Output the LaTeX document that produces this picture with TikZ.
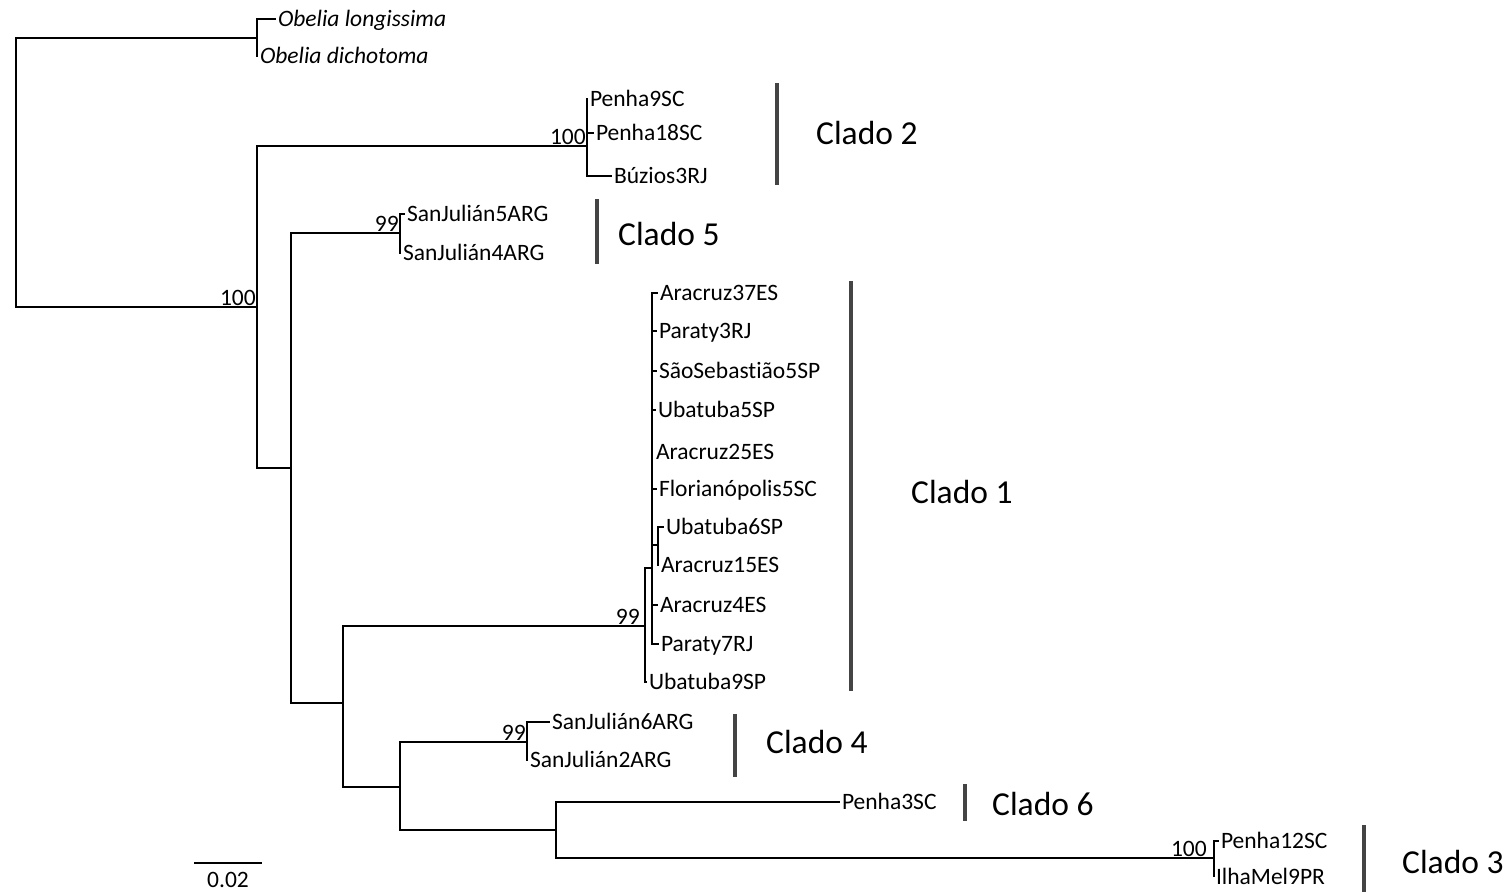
\documentclass[tikz,border=0pt]{standalone}
\usepackage{fontspec}
\setmainfont[Ligatures={NoCommon}]{Carlito}
\definecolor{treeline}{HTML}{000000}
\definecolor{barcolor}{HTML}{444444}

\begin{document}
\begin{tikzpicture}[
    x=1pt, y=-1pt,
    every node/.style={font=\fontsize{23.5}{27}\selectfont},
    taxon/.style={anchor=west, inner xsep=2pt, inner ysep=0pt, outer sep=0pt, text height=15pt, text depth=0pt},
    boot/.style={anchor=south east, inner sep=1pt},
    clado/.style={anchor=west, inner sep=0pt, font=\fontsize{33.5}{38}\selectfont},
    branch/.style={line width=2.8pt, color=treeline},
    cladebar/.style={line width=3.2pt, color=barcolor}
]
\useasboundingbox (0,0) rectangle (1510,892);

% Internal nodes
\coordinate (root) at (16,172);
\coordinate (ob) at (257,38);
\coordinate (ing) at (257,307);
\coordinate (c2) at (587,146);
\coordinate (a) at (291,468);
\coordinate (c5) at (400,233);
\coordinate (b) at (343,703);
\coordinate (c1) at (645,626);
\coordinate (e) at (652,568);
\coordinate (f) at (658,545);
\coordinate (d) at (400,787);
\coordinate (c4) at (527,742);
\coordinate (g) at (556,830);
\coordinate (c3) at (1214,858);

% Taxa
\node[taxon] (olong) at (276,19) {\itshape Obelia longissima};
\node[taxon] (odich) at (258,56) {\itshape Obelia dichotoma};
\node[taxon] (pen9) at (588,99) {Penha9SC};
\node[taxon] (pen18) at (594,133) {Penha18SC};
\node[taxon] (buz3) at (612,176) {Búzios3RJ};
\node[taxon] (sj5) at (405,214) {SanJulián5ARG};
\node[taxon] (sj4) at (401,253) {SanJulián4ARG};
\node[taxon] (ar37) at (658,293) {Aracruz37ES};
\node[taxon] (par3) at (657,331) {Paraty3RJ};
\node[taxon] (sse5) at (657,371) {SãoSebastião5SP};
\node[taxon] (uba5) at (656,410) {Ubatuba5SP};
\node[taxon] (ar25) at (654,452) {Aracruz25ES};
\node[taxon] (flo5) at (657,489) {Florianópolis5SC};
\node[taxon] (uba6) at (664,527) {Ubatuba6SP};
\node[taxon] (ar15) at (659,565) {Aracruz15ES};
\node[taxon] (ar4) at (658,605) {Aracruz4ES};
\node[taxon] (par7) at (659,644) {Paraty7RJ};
\node[taxon] (uba9) at (647,682) {Ubatuba9SP};
\node[taxon] (sj6) at (550,722) {SanJulián6ARG};
\node[taxon] (sj2) at (528,760) {SanJulián2ARG};
\node[taxon] (pen3) at (840,802) {Penha3SC};
\node[taxon] (pen12) at (1219,841) {Penha12SC};
\node[taxon] (ilha9) at (1214,877) {IlhaMel9PR};

% Branches
\draw[branch] (root) |- (ob);
\draw[branch] (root) |- (ing);
\draw[branch] (ob) |- (olong.west);
\draw[branch] (ob) |- (odich.west);
\draw[branch] (ing) |- (c2);
\draw[branch] (ing) |- (a);
\draw[branch] (c2) |- (pen9.west);
\draw[branch] (c2) |- (pen18.west);
\draw[branch] (c2) |- (buz3.west);
\draw[branch] (a) |- (c5);
\draw[branch] (a) |- (b);
\draw[branch] (c5) |- (sj5.west);
\draw[branch] (c5) |- (sj4.west);
\draw[branch] (b) |- (c1);
\draw[branch] (b) |- (d);
\draw[branch] (c1) |- (e);
\draw[branch] (c1) |- (uba9.west);
\draw[branch] (e) |- (ar37.west);
\draw[branch] (e) |- (par3.west);
\draw[branch] (e) |- (sse5.west);
\draw[branch] (e) |- (uba5.west);
\draw[branch] (e) |- (flo5.west);
\draw[branch] (e) |- (f);
\draw[branch] (e) |- (ar4.west);
\draw[branch] (e) |- (par7.west);
\draw[branch] (f) |- (uba6.west);
\draw[branch] (f) |- (ar15.west);
\draw[branch] (d) |- (c4);
\draw[branch] (d) |- (g);
\draw[branch] (c4) |- (sj6.west);
\draw[branch] (c4) |- (sj2.west);
\draw[branch] (g) |- (pen3.west);
\draw[branch] (g) |- (c3);
\draw[branch] (c3) |- (pen12.west);
\draw[branch] (c3) |- (ilha9.west);

% Bootstrap values
\node[boot] (bs-ing) at (ing) {100};
\node[boot] (bs-c2) at (c2) {100};
\node[boot] (bs-c5) at (c5) {99};
\node[boot] (bs-c1) at ([xshift=-4pt]c1) {99};
\node[boot] (bs-c4) at (c4) {99};
\node[boot] (bs-c3) at ([xshift=-6pt]c3) {100};

% Clades
\draw[cladebar] (777,83) -- (777,185);
\node[clado] (cl2) at (816,133) {Clado 2};
\draw[cladebar] (597,199) -- (597,264);
\node[clado] (cl5) at (618,234) {Clado 5};
\draw[cladebar] (851,281) -- (851,691);
\node[clado] (cl1) at (911,492) {Clado 1};
\draw[cladebar] (735,714) -- (735,777);
\node[clado] (cl4) at (766,742) {Clado 4};
\draw[cladebar] (965,784) -- (965,821);
\node[clado] (cl6) at (992,804) {Clado 6};
\draw[cladebar] (1364,825) -- (1364,892);
\node[clado] (cl3) at (1402,862) {Clado 3};

% Scale bar
\coordinate (sb1) at (194,863);
\coordinate (sb2) at (262,863);
\draw[branch] (sb1) -- node[below=8pt, inner sep=0pt] (sblabel) {0.02} (sb2);

\end{tikzpicture}
\end{document}
